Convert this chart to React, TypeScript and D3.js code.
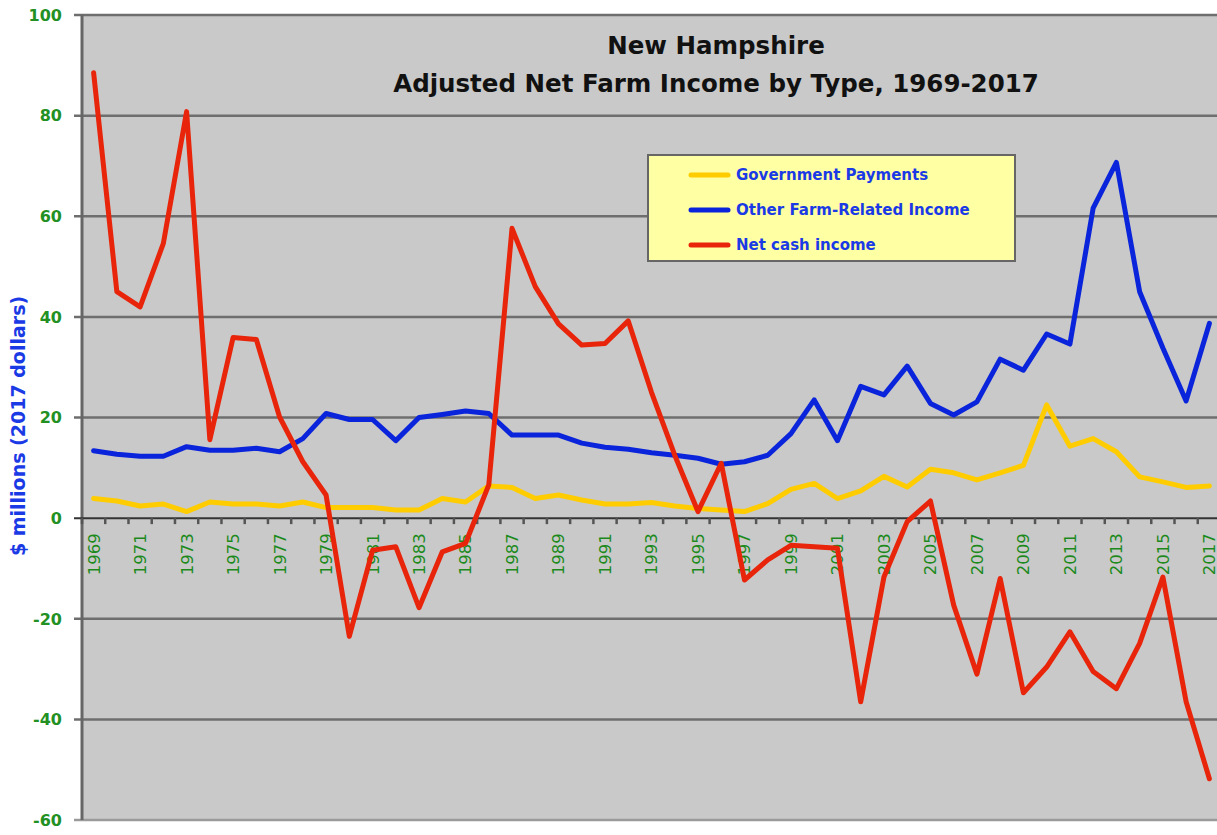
import {useEffect, useRef} from "react";
import * as d3 from "d3";

// Years along the x axis
const years = d3.range(1969, 2018);

// Government Payments, $ millions (2017 dollars)
const govPayments = [
    3.9, 3.4, 2.4, 2.8, 1.3, 3.2, 2.8, 2.8, 2.4, 3.2,
    2.1, 2.1, 2.1, 1.6, 1.6, 3.9, 3.2, 6.4, 6.1, 3.9,
    4.6, 3.6, 2.8, 2.8, 3.1, 2.4, 1.9, 1.6, 1.3, 2.9,
    5.7, 6.9, 3.9, 5.4, 8.3, 6.2, 9.7, 9.0, 7.6, 9.0,
    10.5, 22.5, 14.3, 15.8, 13.2, 8.2, 7.2, 6.1, 6.4
];

// Other Farm-Related Income
const otherIncome = [
    13.4, 12.7, 12.3, 12.3, 14.2, 13.5, 13.5, 13.9, 13.2, 15.8,
    20.8, 19.6, 19.6, 15.4, 20.0, 20.6, 21.3, 20.8, 16.5, 16.5,
    16.5, 14.9, 14.1, 13.7, 13.0, 12.5, 11.9, 10.7, 11.2, 12.5,
    16.8, 23.5, 15.4, 26.2, 24.5, 30.2, 22.8, 20.5, 23.1, 31.6,
    29.4, 36.6, 34.6, 61.6, 70.7, 45.0, 33.8, 23.3, 38.7
];

// Net cash income
const netCash = [
    88.5, 45.0, 42.0, 54.6, 80.8, 15.6, 35.9, 35.5, 20.1, 11.2,
    4.6, -23.5, -6.4, -5.7, -17.8, -6.7, -5.0, 6.6, 57.6, 46.0,
    38.6, 34.4, 34.7, 39.2, 25.0, 12.5, 1.3, 10.9, -12.3, -8.3,
    -5.4, -5.7, -6.0, -36.5, -11.7, -0.7, 3.4, -17.3, -31.0, -12.0,
    -34.7, -29.6, -22.6, -30.5, -33.9, -24.9, -11.7, -36.5, -51.8
];

const yTicks = [-60, -40, -20, 0, 20, 40, 60, 80, 100];

const seriesNames = ["Government Payments", "Other Farm-Related Income", "Net cash income"];
const seriesColors = ["#ffcc00", "#0a24dc", "#e8240a"];

function App(){
    const ref = useRef(null);

    const width = 1217, height = 835;
    const left = 82, top = 15, right = 1221, bottom = 820;

    useEffect(() => {
        const svg = d3.select(ref.current);
        svg.selectAll("*").remove();

        const font = "'DejaVu Sans', Verdana, sans-serif";

        const x = d3.scaleBand()
            .domain(years.map(String))
            .range([left, right]);

        const y = d3.scaleLinear()
            .domain([-60, 100])
            .range([bottom, top]);

        // Plot background
        svg.append("rect")
            .attr("x", left)
            .attr("y", top)
            .attr("width", right - left)
            .attr("height", bottom - top)
            .attr("fill", "#c9c9c9");

        // Horizontal grid lines
        svg.append("g")
            .selectAll("line")
            .data(yTicks.filter(d => d !== 0))
            .join("line")
            .attr("x1", left - 8)
            .attr("x2", right)
            .attr("y1", d => y(d))
            .attr("y2", d => y(d))
            .attr("stroke", d => d === -60 ? "#9a9a9a" : "#6e6e6e")
            .attr("stroke-width", 2.5);

        // Left axis line
        svg.append("line")
            .attr("x1", left)
            .attr("x2", left)
            .attr("y1", top)
            .attr("y2", bottom)
            .attr("stroke", "#666")
            .attr("stroke-width", 3);

        // Y tick labels
        svg.append("g")
            .attr("font-family", font)
            .attr("font-weight", "bold")
            .attr("font-size", 16)
            .attr("fill", "#229022")
            .attr("text-anchor", "end")
            .selectAll("text")
            .data(yTicks)
            .join("text")
            .attr("x", 62)
            .attr("y", d => y(d))
            .attr("dy", "0.36em")
            .text(d => d);

        // Y axis title
        svg.append("text")
            .attr("transform", `translate(25, 426) rotate(-90)`)
            .attr("text-anchor", "middle")
            .attr("font-family", font)
            .attr("font-weight", "bold")
            .attr("font-size", 19)
            .attr("fill", "#1a3ae6")
            .text("$ millions (2017 dollars)");

        // Zero line with tick marks at band boundaries
        svg.append("line")
            .attr("x1", left - 8)
            .attr("x2", right)
            .attr("y1", y(0))
            .attr("y2", y(0))
            .attr("stroke", "#333")
            .attr("stroke-width", 2);

        svg.append("g")
            .selectAll("line")
            .data(years)
            .join("line")
            .attr("x1", d => x(String(d)))
            .attr("x2", d => x(String(d)))
            .attr("y1", y(0))
            .attr("y2", y(0) + 6)
            .attr("stroke", "#555")
            .attr("stroke-width", 2.5);

        // Year labels, every other year
        svg.append("g")
            .attr("font-family", font)
            .attr("font-size", 16.5)
            .attr("fill", "#1b8a1b")
            .attr("text-anchor", "end")
            .selectAll("text")
            .data(years.filter(d => d % 2 === 1))
            .join("text")
            .attr("transform", d => `translate(${x(String(d)) + x.bandwidth() / 2}, ${y(0) + 15}) rotate(-90)`)
            .attr("dy", "0.36em")
            .text(d => d);

        // Lines
        const line = d3.line()
            .x((d, i) => x(String(years[i])) + x.bandwidth() / 2)
            .y(d => y(d));

        const allSeries = [govPayments, otherIncome, netCash];
        svg.append("g")
            .selectAll("path")
            .data(allSeries)
            .join("path")
            .attr("d", d => line(d))
            .attr("fill", "none")
            .attr("stroke", (d, i) => seriesColors[i])
            .attr("stroke-width", 5)
            .attr("stroke-linejoin", "round")
            .attr("stroke-linecap", "round");

        // Title
        const title = svg.append("g")
            .attr("font-family", font)
            .attr("font-weight", "bold")
            .attr("font-size", 24.5)
            .attr("text-anchor", "middle")
            .attr("fill", "#111");
        title.append("text").attr("x", 716).attr("y", 54).text("New Hampshire");
        title.append("text").attr("x", 716).attr("y", 92).text("Adjusted Net Farm Income by Type, 1969-2017");

        // Legend
        const legend = svg.append("g");
        legend.append("rect")
            .attr("x", 648)
            .attr("y", 155)
            .attr("width", 367)
            .attr("height", 106)
            .attr("fill", "#ffffa3")
            .attr("stroke", "#666")
            .attr("stroke-width", 2);

        const items = legend.selectAll("g")
            .data(seriesNames)
            .join("g")
            .attr("transform", (d, i) => `translate(0, ${175 + i * 35})`);
        items.append("line")
            .attr("x1", 691)
            .attr("x2", 728)
            .attr("stroke", (d, i) => seriesColors[i])
            .attr("stroke-width", 5)
            .attr("stroke-linecap", "round");
        items.append("text")
            .attr("x", 736)
            .attr("dy", "0.36em")
            .attr("font-family", font)
            .attr("font-weight", "bold")
            .attr("font-size", 15)
            .attr("fill", "#1a3ae6")
            .text(d => d);
    });

    return (
        <div style={{position: "absolute", left: 0, top: 0}}>
            <svg ref={ref} width={width} height={height} style={{display: "block", background: "#fff"}} />
        </div>
    );
}

export default App;
